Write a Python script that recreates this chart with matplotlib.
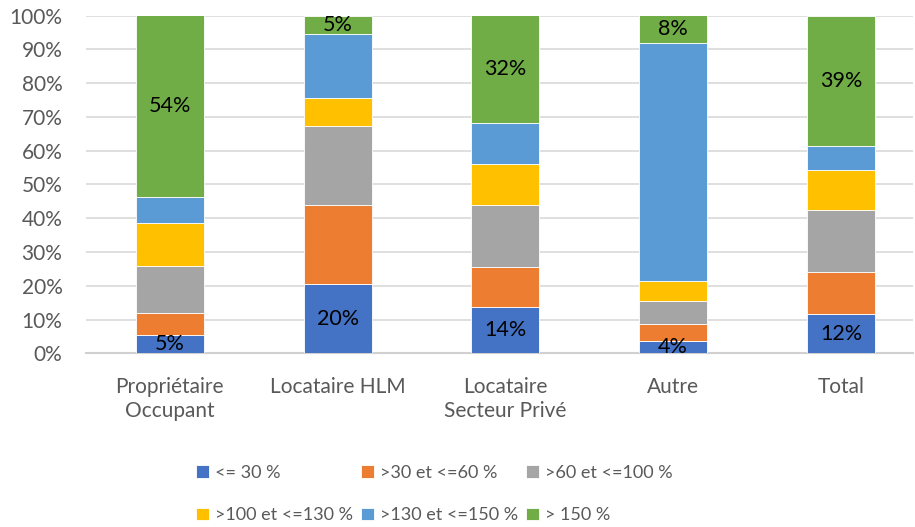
import matplotlib
matplotlib.use("Agg")
import matplotlib.pyplot as plt
import numpy as np
from matplotlib.ticker import PercentFormatter

plt.rcParams['font.family'] = ['Lato', 'DejaVu Sans']

categories = ["Propriétaire\nOccupant", "Locataire HLM", "Locataire\nSecteur Privé", "Autre", "Total"]
series_names = ["<= 30 %", ">30 et <=60 %", ">60 et <=100 %",
                ">100 et <=130 %", ">130 et <=150 %", "> 150 %"]
le_30 = [5.4, 20.4, 13.7, 3.6, 11.6]
s30_60 = [6.4, 23.6, 11.9, 5.0, 12.4]
s60_100 = [14.1, 23.2, 18.4, 7.0, 18.3]
s100_130 = [12.6, 8.4, 12.0, 5.9, 12.0]
s130_150 = [7.8, 19.0, 12.2, 70.4, 7.1]
gt_150 = [53.7, 5.4, 31.8, 8.1, 38.6]
colors = ["#4472C4", "#ED7D31", "#A5A5A5", "#FFC000", "#5B9BD5", "#70AD47"]
labelled = [0, 5]

data = [le_30, s30_60, s60_100, s100_130, s130_150, gt_150]

W, H = 915, 527
fig = plt.figure(figsize=(W / 100, H / 100), dpi=100)
ax = fig.add_axes([86 / W, 1 - 353.3 / H, (W - 88) / W, (353.3 - 15.5) / H])

x = np.arange(len(categories))
bottom = np.zeros(len(categories))
handles = []
for i, (vals, c, name) in enumerate(zip(data, colors, series_names)):
    v = np.array(vals)
    bars = ax.bar(x, v, width=0.405, bottom=bottom, color=c, label=name,
                  edgecolor="white", linewidth=0.6, zorder=3)
    handles.append(bars)
    if i in labelled:
        ax.bar_label(bars, labels=[f"{val:.0f}%" for val in v], label_type="center",
                     fontsize=15.5, color="black", zorder=4)
    bottom += v

ax.set_ylim(0, 100)
ax.set_xlim(-0.5, 4.43)
ax.yaxis.set_major_locator(plt.MultipleLocator(10))
ax.yaxis.set_major_formatter(PercentFormatter(decimals=0))
ax.grid(axis="y", color="#d9d9d9", linewidth=1.2, zorder=0)
for s in ["top", "right", "left"]:
    ax.spines[s].set_visible(False)
ax.spines["bottom"].set_color("#d0d0d0")
ax.spines["bottom"].set_linewidth(1.5)
ax.tick_params(axis="both", length=0, colors="#595959", labelsize=15)
ax.tick_params(axis="y", pad=17)
ax.tick_params(axis="x", pad=17)
ax.set_xticks(x)
ax.set_xticklabels(categories, va="top", ha="center", linespacing=1.25)
for lbl in ax.get_yticklabels():
    lbl.set_horizontalalignment("right")

order = [0, 3, 1, 4, 2, 5]
leg = fig.legend([handles[i] for i in order], [series_names[i] for i in order],
                 ncol=3, loc="upper left", bbox_to_anchor=(196 / W, 1 - 465 / H),
                 frameon=False, fontsize=13, handlelength=0.7, handleheight=0.7,
                 handletextpad=0.35, columnspacing=0.45, labelspacing=1.45,
                 borderpad=0, borderaxespad=0)
for t in leg.get_texts():
    t.set_color("#595959")

fig.savefig("out.png", dpi=100)
